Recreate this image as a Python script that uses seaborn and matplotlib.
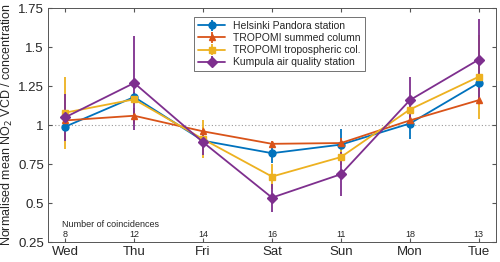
import numpy as np
import matplotlib
matplotlib.use("Agg")
import matplotlib.pyplot as plt
import seaborn as sns

days = ["Wed", "Thu", "Fri", "Sat", "Sun", "Mon", "Tue"]
coincidences = [8, 12, 14, 16, 11, 18, 13]

pandora = [0.99, 1.18, 0.90, 0.82, 0.875, 1.01, 1.27]
pandora_err = [0.02, 0.03, 0.03, 0.06, 0.10, 0.10, 0.04]
summed = [1.03, 1.06, 0.96, 0.88, 0.885, 1.03, 1.16]
summed_err = [0.02, 0.05, 0.03, 0.02, 0.03, 0.03, 0.03]
tropo = [1.08, 1.165, 0.91, 0.67, 0.795, 1.10, 1.31]
tropo_err = [0.23, 0.03, 0.12, 0.08, 0.05, 0.04, 0.27]
kumpula = [1.05, 1.27, 0.89, 0.535, 0.685, 1.16, 1.42]
kumpula_err = [0.15, 0.30, 0.08, 0.09, 0.14, 0.15, 0.26]

series = [
    ("Helsinki Pandora station", pandora, pandora_err, "#0072BD", "o"),
    ("TROPOMI summed column", summed, summed_err, "#D95319", "^"),
    ("TROPOMI tropospheric col.", tropo, tropo_err, "#EDB120", "s"),
    ("Kumpula air quality station", kumpula, kumpula_err, "#7E2F8E", "D"),
]

sns.set_style("ticks")
plt.rcParams["font.family"] = ["Liberation Sans", "DejaVu Sans"]

fig = plt.figure(figsize=(5, 2.62), dpi=100)
ax = fig.add_axes([0.096, 0.076, 0.896, 0.893])

x = np.arange(len(days))
ax.axhline(1, color="#999999", lw=0.8, ls=(0, (1, 2)), zorder=0)

for label, vals, err, col, mk in series:
    ax.errorbar(x, vals, yerr=err, color=col, marker=mk, ms=5, lw=1.3,
                elinewidth=1.3, capsize=0, label=label)

ax.text(-0.04, 0.36, "Number of coincidences", fontsize=6.5, va="center", ha="left")
for xi, n in zip(x, coincidences):
    ax.text(xi, 0.30, str(n), fontsize=6.5, ha="center", va="center")

ax.set_xlim(-0.25, 6.25)
ax.set_ylim(0.25, 1.75)
ax.set_xticks(x)
ax.set_xticklabels(days, fontsize=9.5)
yt = [0.25, 0.5, 0.75, 1, 1.25, 1.5, 1.75]
ax.set_yticks(yt)
ax.set_yticklabels(["0.25", "0.5", "0.75", "1", "1.25", "1.5", "1.75"], fontsize=9.5)
ax.set_ylabel("Normalised mean NO$_2$ VCD / concentration", fontsize=9, labelpad=2)

ax.tick_params(direction="in", top=True, right=True, length=3, color="#555555",
               labelcolor="#262626", pad=3)
for sp in ax.spines.values():
    sp.set_color("#555555")
    sp.set_linewidth(0.7)

leg = ax.legend(loc="upper left", bbox_to_anchor=(0.315, 0.985), fontsize=7.5,
                frameon=True, fancybox=False, edgecolor="#333333",
                handlelength=2.5, borderpad=0.4, labelspacing=0.2)
leg.get_frame().set_linewidth(0.6)

fig.savefig("out.png", dpi=100)
